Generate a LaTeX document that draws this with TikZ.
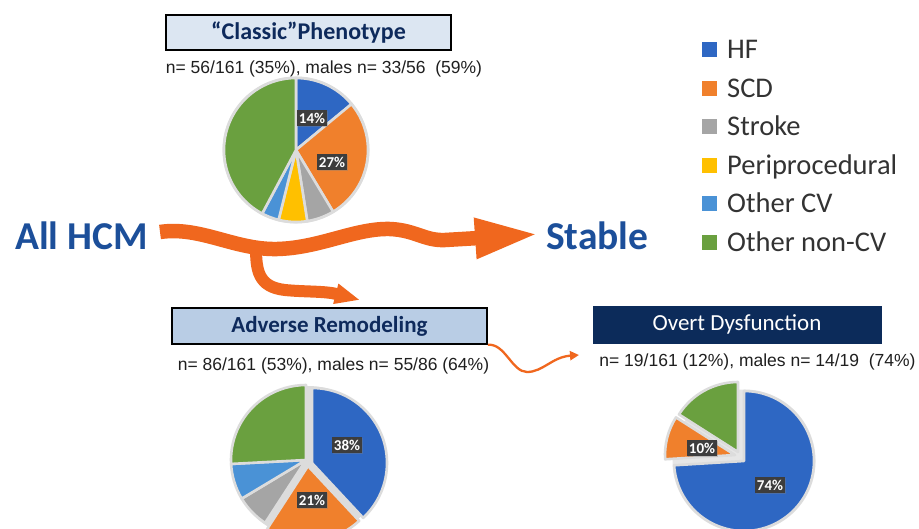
\documentclass[tikz,border=0pt]{standalone}
\usepackage{fontspec}
\setmainfont{Carlito}
\newfontfamily\arialf{Liberation Sans}
\usetikzlibrary{arrows.meta,shadows}
\definecolor{hfc}{HTML}{2E67C3}
\definecolor{scdc}{HTML}{F0802C}
\definecolor{strokec}{HTML}{A5A5A5}
\definecolor{perc}{HTML}{FFC000}
\definecolor{ocvc}{HTML}{4A92D6}
\definecolor{oncvc}{HTML}{6AA03F}
\definecolor{sepc}{HTML}{DCDCDC}
\definecolor{haloc}{HTML}{E6E6E6}
\definecolor{navy}{HTML}{0E2A5C}
\definecolor{bigblue}{HTML}{1C4F9A}
\definecolor{flowc}{HTML}{F0671E}
\definecolor{pctbg}{HTML}{3D3D3D}
\definecolor{legc}{HTML}{333333}
\definecolor{lightbox}{HTML}{DCE6F2}
\definecolor{midbox}{HTML}{B9CDE5}
\definecolor{darkbox}{HTML}{0C2B5A}
\newcommand\mypieslice[4]{\filldraw[fill=#1,sep] (0,0) -- (#2:#4pt) arc[start angle=#2,end angle=#3,radius=#4pt] -- cycle;}
\tikzset{
  hdr/.style={draw=black,line width=1.6pt,inner sep=0pt,text=navy,font=\fontsize{24}{26}\selectfont\bfseries},
  ntext/.style={font=\arialf\fontsize{17.5}{20}\selectfont,text=black!88,inner sep=0pt},
  pct/.style={fill=pctbg,text=white,font=\fontsize{15}{16}\selectfont\bfseries,inner xsep=2pt,inner ysep=2.4pt,drop shadow={shadow xshift=1pt,shadow yshift=-1pt,opacity=.35}},
  sep/.style={draw=sepc,line width=2.6pt,line join=round},
  big/.style={font=\fontsize{39.5}{42}\selectfont\bfseries,text=bigblue,inner sep=0pt,anchor=base west},
  legtxt/.style={font=\fontsize{28.5}{30}\selectfont,text=legc,anchor=base west,inner sep=0pt},
  legsq/.style={minimum size=15pt,inner sep=0pt},
  flow/.style={draw=flowc,line cap=butt}
}
\begin{document}
\begin{tikzpicture}[x=1pt,y=-1pt]
\useasboundingbox (0,0) rectangle (919,528);
\clip (0,0) rectangle (919,528);
\fill[white] (0,0) rectangle (919,528);

% ---------- headers ----------
\node[hdr,fill=lightbox,minimum width=285pt,minimum height=35pt] (classic) at (308.5,32.5) {“Classic”Phenotype};
\node[ntext] (n1) at (324,69) {n= 56/161 (35\%), males n= 33/56\ \ (59\%)};

\node[hdr,fill=midbox,minimum width=315pt,minimum height=36pt,font=\fontsize{23}{25}\selectfont\bfseries] (adverse) at (329.5,326) {Adverse Remodeling};
\node[ntext] (n2) at (333.5,366) {n= 86/161 (53\%), males n= 55/86 (64\%)};

\node[draw=darkbox,line width=0.8pt,fill=darkbox,text=white,inner sep=0pt,minimum width=288pt,minimum height=37pt,font=\fontsize{23}{25}\selectfont] (overt) at (737,324.5) {Overt Dysfunction};
\node[ntext] (n3) at (757.5,361.5) {n= 19/161 (12\%), males n= 14/19\ \ (74\%)};

% ---------- pie 1 ----------
\begin{scope}[shift={(296,150)}]
  \fill[sepc] (0,0) circle[radius=73.5pt];
  \mypieslice{hfc}{90}{39.6}{72}
  \mypieslice{scdc}{39.6}{-59}{72}
  \mypieslice{strokec}{-59}{-81}{72}
  \mypieslice{perc}{-81}{-104}{72}
  \mypieslice{ocvc}{-104}{-118}{72}
  \mypieslice{oncvc}{-118}{-270}{72}
\end{scope}
\node[pct] (p14) at (312,118) {14\%};
\node[pct] (p27) at (332,162) {27\%};

% ---------- pie 2 ----------
\begin{scope}[shift={(306,460)}]
  \fill[sepc] (2pt,-2pt) circle[radius=76pt];
  \begin{scope}[shift={(6pt,-3pt)}]\mypieslice{hfc}{90}{-47}{75}\end{scope}
  \begin{scope}[shift={(2pt,-6pt)}]\mypieslice{scdc}{-47}{-123}{75}\end{scope}
  \mypieslice{strokec}{-123}{-149}{75}
  \mypieslice{ocvc}{-149}{-177}{75}
  \mypieslice{oncvc}{-177}{-270}{75}
\end{scope}
\node[pct] (p38) at (347,445) {38\%};
\node[pct] (p21) at (312,500) {21\%};

% ---------- pie 3 ----------
\begin{scope}[shift={(737,454)}]
  \begin{scope}[shift={(7pt,-7pt)}]\fill[haloc] (0,0) circle[radius=71.5pt];\mypieslice{hfc}{90}{-176.5}{70}\end{scope}
  \begin{scope}[shift={(-2pt,-1pt)}]\mypieslice{scdc}{-176.5}{-212.5}{70}\end{scope}
  \begin{scope}[shift={(1pt,2pt)}]\mypieslice{oncvc}{-212.5}{-270}{70}\end{scope}
\end{scope}
\node[pct] (p10) at (702,448) {10\%};
\node[pct] (p74) at (770,485) {74\%};

% ---------- big labels ----------
\node[big] (allhcm) at (15,249) {All HCM};
\node[big] (stable) at (546,249) {Stable};

% ---------- flows ----------
\coordinate (stip) at (539,234);
\coordinate (bstart) at (256,247);
\coordinate (btip) at (360,300);
\coordinate (otip) at (579,355);
\draw[flow,line width=12pt,-{Triangle[length=25pt,width=19pt]}] (bstart) .. controls (256,270) and (258,287) .. (285,290) .. controls (305,292) and (325,291) .. (btip);
\draw[flow,line width=14.5pt,-{Triangle[length=64pt,width=37pt]}] ([xshift=12pt]allhcm.east |- 0,232) .. controls (200,226) and (235,250) .. (277,249) .. controls (320,248) and (355,228) .. (390,229) .. controls (415,230) and (425,241) .. (445,240) .. controls (480,238) and (510,236) .. (stip);
\draw[flow,line width=2.3pt,-{Triangle[length=9pt,width=9pt]}] (adverse.south east) .. controls (505,343) and (512,372) .. (527,372) .. controls (543,372) and (552,357) .. (otip);

% ---------- legend ----------
\node[legsq,fill=hfc] (l1) at (709.5,49.5) {};
\node[legtxt] (t1) at (727,58.7) {HF};
\node[legsq,fill=scdc] (l2) at (709.5,88) {};
\node[legtxt] (t2) at (727,97.2) {SCD};
\node[legsq,fill=strokec] (l3) at (709.5,126.5) {};
\node[legtxt] (t3) at (727,135.7) {Stroke};
\node[legsq,fill=perc] (l4) at (709.5,165) {};
\node[legtxt] (t4) at (727,174.2) {Periprocedural};
\node[legsq,fill=ocvc] (l5) at (709.5,203.5) {};
\node[legtxt] (t5) at (727,212.7) {Other CV};
\node[legsq,fill=oncvc] (l6) at (709.5,242) {};
\node[legtxt] (t6) at (727,251.2) {Other non-CV};
\end{tikzpicture}
\end{document}
